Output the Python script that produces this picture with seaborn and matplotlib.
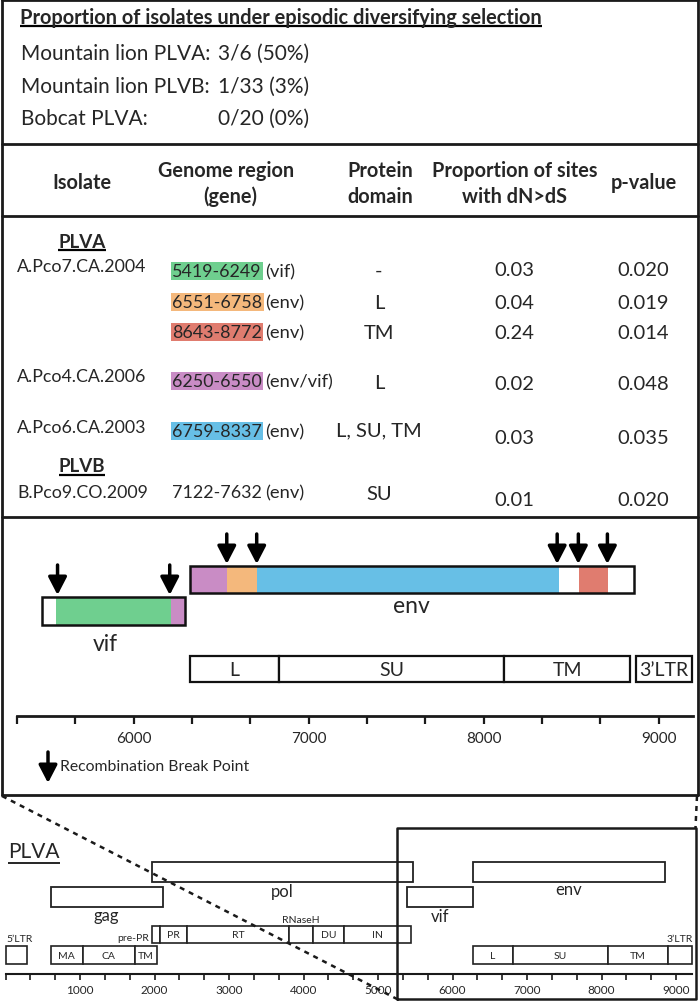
import numpy as np
import pandas as pd
import matplotlib
matplotlib.use('Agg')
import matplotlib.pyplot as plt
import seaborn as sns

sns.set_theme(style='white')
plt.rcParams['font.family'] = ['Lato', 'DejaVu Sans']

# ---- Dados ----
# Painel superior: proporcao de isolados
hosts = ['Mountain lion PLVA:', 'Mountain lion PLVB:', 'Bobcat PLVA:']
host_props = ['3/6 (50%)', '1/33 (3%)', '0/20 (0%)']

# Tabela
isolates = ['A.Pco7.CA.2004', '', '', 'A.Pco4.CA.2006', 'A.Pco6.CA.2003', 'B.Pco9.CO.2009']
regions = ['5419-6249', '6551-6758', '8643-8772', '6250-6550', '6759-8337', '7122-7632 ']
region_genes = ['(vif)', '(env)', '(env)', '(env/vif)', '(env)', '(env)']
prot_domains = ['-', 'L', 'TM', 'L', 'L, SU, TM', 'SU']
prop_sites = [0.03, 0.04, 0.24, 0.02, 0.03, 0.01]
p_values = [0.020, 0.019, 0.014, 0.048, 0.035, 0.020]
region_colors = ['#6fcf8f', '#f4b87c', '#e07c6f', '#c98cc5', '#67bfe6', None]

# Zoom (vif/env) - coordenadas no genoma
zoom_genes = ['vif', 'env']
zoom_start = [5474, 6320]
zoom_end = [6295, 8859]
seg_gene = ['vif', 'vif', 'env', 'env', 'env', 'env']
seg_start = [5556, 6213, 6320, 6532, 6703, 8547]
seg_end = [6213, 6295, 6532, 6703, 8430, 8710]
seg_colors = ['#6fcf8f', '#c98cc5', '#c98cc5', '#f4b87c', '#67bfe6', '#e07c6f']
break_points = [5565, 6206, 6532, 6703, 8420, 8541, 8707]
break_gene = ['vif', 'vif', 'env', 'env', 'env', 'env', 'env']
zoom_dom = ['L', 'SU', 'TM', "3\u2019LTR"]
zoom_dom_start = [6320, 6830, 8119, 8870]
zoom_dom_end = [6830, 8119, 8836, 9190]

# Genoma PLVA completo
genes = ['gag', 'pol', 'vif', 'env']
gene_start = [607, 1966, 5390, 6275]
gene_end = [2110, 5470, 6275, 8852]
domains = ['', 'MA', 'CA', 'TM', '', 'PR', 'RT', '', 'DU', 'IN', 'L', 'SU', 'TM', '']
dom_start = [0, 607, 1036, 1738, 1967, 2074, 2437, 3806, 4127, 4545, 6275, 6812, 8087, 8893]
dom_end = [290, 1036, 1738, 2038, 2074, 2437, 3806, 4127, 4545, 5440, 6812, 8087, 8893, 9215]
dom_track = ['low', 'low', 'low', 'low', 'pol', 'pol', 'pol', 'pol', 'pol', 'pol', 'low', 'low', 'low', 'low']

W, H = 700, 1003
fig = plt.figure(figsize=(W / 100, H / 100), dpi=100)


def px_axes(left, top, width, height, **kw):
    return fig.add_axes([left / W, 1 - (top + height) / H, width / W, height / H], **kw)


ax0 = px_axes(0, 0, W, H, zorder=5)
ax0.set_xlim(0, W)
ax0.set_ylim(H, 0)
ax0.axis('off')


def underline(t, y, lw=1.6):
    fig.canvas.draw()
    bb = t.get_window_extent()
    inv = ax0.transData.inverted()
    (x0, _), (x1, _) = inv.transform([(bb.x0, bb.y0), (bb.x1, bb.y1)])
    ax0.plot([x0, x1], [y, y], color='black', lw=lw, solid_capstyle='butt')


arrow_kw = dict(arrowstyle='-|>,head_length=0.54,head_width=0.28',
                lw=2.5, color='black', mutation_scale=20, shrinkA=0, shrinkB=0)

# bordas
blw = 2.0
ax0.plot([1.5, 1.5], [1, 796], color='#1a1a1a', lw=blw)
ax0.plot([697.5, 697.5], [1, 796], color='#1a1a1a', lw=blw)
for yy in [1, 145, 217, 518, 796]:
    ax0.plot([1.5, 697.5], [yy, yy], color='#1a1a1a', lw=blw)

# ---- painel superior ----
t = ax0.text(20, 18, 'Proportion of isolates under episodic diversifying selection',
             fontsize=14.4, fontweight='bold', ha='left', va='center')
underline(t, 27)
for i, (h, p) in enumerate(zip(hosts, host_props)):
    yy = 54 + i * 32.5
    ax0.text(21, yy, h, fontsize=15, ha='left', va='center')
    ax0.text(218, yy, p, fontsize=15, ha='left', va='center')

# ---- tabela ----
hdr = dict(fontsize=14.3, fontweight='bold', ha='center', va='center')
ax0.text(82, 183, 'Isolate', **hdr)
ax0.text(226, 171, 'Genome region', **hdr)
ax0.text(230, 197, '(gene)', **hdr)
ax0.text(380, 171, 'Protein', **hdr)
ax0.text(380, 197, 'domain', **hdr)
ax0.text(515, 171, 'Proportion of sites', **hdr)
ax0.text(515, 197, 'with dN>dS', **hdr)
ax0.text(644, 183, 'p-value', **hdr)

t = ax0.text(82, 242, 'PLVA', fontsize=13.5, fontweight='bold', ha='center', va='center')
underline(t, 251)
t = ax0.text(82, 467, 'PLVB', fontsize=13.5, fontweight='bold', ha='center', va='center')
underline(t, 476)

iso_y = [267, 0, 0, 377, 428, 493]
reg_y = [272, 303, 333, 382, 432, 493]
dom_y = [271, 303, 333, 383, 431, 495]
val_y = [270, 303, 333, 385, 439, 501]
for i in range(len(regions)):
    if isolates[i]:
        ax0.text(17, iso_y[i], isolates[i], fontsize=12.8, ha='left', va='center')
    bbox = None
    if region_colors[i]:
        bbox = dict(boxstyle='square,pad=0.08', facecolor=region_colors[i], edgecolor='none')
    ax0.text(172, reg_y[i], regions[i], fontsize=12.9, ha='left', va='center', bbox=bbox)
    ax0.text(265, reg_y[i], region_genes[i], fontsize=13.2, ha='left', va='center')
    ax0.text(379, dom_y[i], prot_domains[i], fontsize=14.5, ha='center', va='center')
    ax0.text(514, val_y[i], '{:.2f}'.format(prop_sites[i]), fontsize=14.5, ha='center', va='center')
    ax0.text(643, val_y[i], '{:.3f}'.format(p_values[i]), fontsize=14.5, ha='center', va='center')

# ---- zoom vif/env ----
scale_z = 0.175
axz = px_axes(17, 520, 676, 197, zorder=2)
axz.set_xlim(5333.3, 5333.3 + 676 / scale_z)
axz.set_ylim(717, 520)
axz.set_facecolor('none')
for s in ['top', 'left', 'right']:
    axz.spines[s].set_visible(False)
axz.spines['bottom'].set_color('#1a1a1a')
axz.spines['bottom'].set_linewidth(2)
axz.set_xticks([6000, 7000, 8000, 9000])
axz.set_xticks(np.arange(5333.33, 9200, 1000 / 3), minor=True)
axz.set_yticks([])
axz.tick_params(axis='x', which='both', direction='out', length=6, width=1.6, color='#1a1a1a',
                bottom=True, labelsize=11, pad=5)

gene_y = {'vif': (612, 28), 'env': (580.5, 27)}
for g, a, b in zip(zoom_genes, zoom_start, zoom_end):
    yc, hh = gene_y[g]
    axz.barh(yc, b - a, left=a, height=hh, color='white', edgecolor='none')
for g, a, b, c in zip(seg_gene, seg_start, seg_end, seg_colors):
    yc, hh = gene_y[g]
    axz.barh(yc, b - a, left=a, height=hh, color=c, edgecolor='none')
for g, a, b in zip(zoom_genes, zoom_start, zoom_end):
    yc, hh = gene_y[g]
    axz.barh(yc, b - a, left=a, height=hh, color='none', edgecolor='#111', linewidth=1.8)
axz.text((zoom_start[0] + zoom_end[0]) / 2 - 45, 645, 'vif', fontsize=16.5, ha='center', va='center')
axz.text((zoom_start[1] + zoom_end[1]) / 2, 607, 'env', fontsize=16.5, ha='center', va='center')

for x, g in zip(break_points, break_gene):
    yc, hh = gene_y[g]
    tip = yc - hh / 2 - 2
    axz.annotate('', xy=(x, tip), xytext=(x, tip - 30), arrowprops=arrow_kw)

for d, a, b in zip(zoom_dom, zoom_dom_start, zoom_dom_end):
    axz.barh(670, b - a, left=a, height=26, color='white', edgecolor='#111', linewidth=1.6,
             clip_on=False)
    axz.text((a + b) / 2, 671, d, fontsize=14, ha='center', va='center')

# legenda
ax0.annotate('', xy=(48, 784), xytext=(48, 753), arrowprops=arrow_kw)
ax0.text(60, 767, 'Recombination Break Point', fontsize=11.3, ha='left', va='center')

# ---- genoma PLVA ----
scale_g = 0.0745
axg = px_axes(5.5, 830, 9215 * scale_g, 145, zorder=2)
axg.set_xlim(0, 9215)
axg.set_ylim(975, 830)
axg.set_facecolor('none')
for s in ['top', 'left', 'right']:
    axg.spines[s].set_visible(False)
axg.spines['bottom'].set_color('#1a1a1a')
axg.spines['bottom'].set_linewidth(1.5)
axg.set_xticks(np.arange(1000, 9001, 1000))
axg.set_xticks(np.arange(0, 9200, 1000 / 3), minor=True)
axg.set_yticks([])
axg.tick_params(axis='x', which='both', direction='out', length=4, width=1.2, color='#1a1a1a',
                bottom=True, labelsize=8.5, pad=3)

gene_row = {'gag': (898, 20), 'pol': (873, 20), 'vif': (898, 20), 'env': (873, 20)}
for g, a, b in zip(genes, gene_start, gene_end):
    yc, hh = gene_row[g]
    axg.barh(yc, b - a, left=a, height=hh, color='white', edgecolor='#222', linewidth=1.3)
lab_y = {'gag': 916, 'pol': 892, 'vif': 917, 'env': 890}
for g, a, b in zip(genes, gene_start, gene_end):
    axg.text((a + b) / 2, lab_y[g], g, fontsize=12, ha='center', va='center')

track_y = {'low': (956, 18), 'pol': (935.5, 17)}
for d, a, b, tr in zip(domains, dom_start, dom_end, dom_track):
    yc, hh = track_y[tr]
    axg.barh(yc, b - a, left=a, height=hh, color='white', edgecolor='#222', linewidth=1.2,
             clip_on=False)
    if d:
        axg.text((a + b) / 2, yc + 0.5, d, fontsize=7.5, ha='center', va='center')
axg.text(dom_start[4] - 40, 939, 'pre-PR', fontsize=7.5, ha='right', va='center')
axg.text((dom_start[7] + dom_end[7]) / 2, 921, 'RNaseH', fontsize=7.5, ha='center', va='center')
axg.text((dom_start[0] + dom_end[0]) / 2 + 40, 940, "5\u2019LTR", fontsize=7.5, ha='center', va='center')
axg.text((dom_start[-1] + dom_end[-1]) / 2, 940, "3\u2019LTR", fontsize=7.5, ha='center', va='center')
t = ax0.text(8, 852, 'PLVA', fontsize=15, ha='left', va='center')
underline(t, 864, lw=1.2)

# caixa e linhas tracejadas
ax0.plot([397, 397, 695.5, 695.5, 397], [1000, 829, 829, 1000, 1000], color='#1a1a1a', lw=1.8)
ax0.plot([2, 397], [797, 1000], color='#1a1a1a', lw=1.8, ls=(0, (2, 2)))
ax0.plot([697, 695.5], [797, 829], color='#1a1a1a', lw=1.8, ls=(0, (2, 2)))

fig.savefig('out.png', dpi=100)
